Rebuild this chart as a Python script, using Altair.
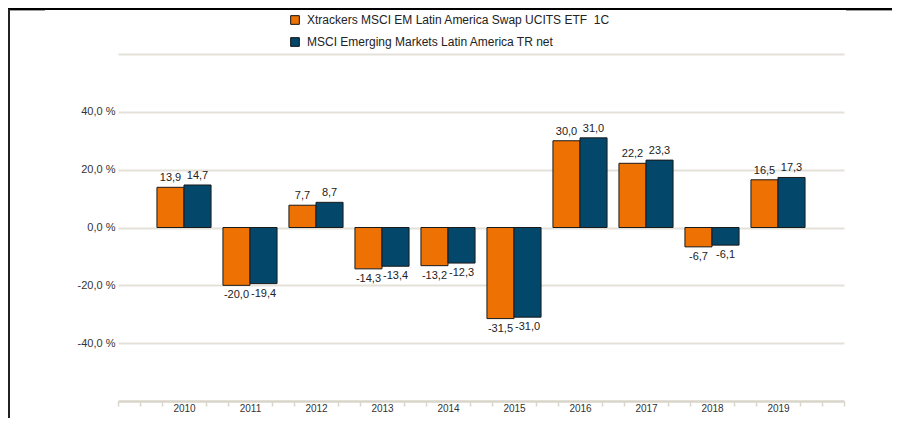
import altair as alt
import pandas as pd

years = [2010, 2011, 2012, 2013, 2014, 2015, 2016, 2017, 2018, 2019]
series_names = [
    "Xtrackers MSCI EM Latin America Swap UCITS ETF\u00a0 1C",
    "MSCI Emerging Markets Latin America TR net",
]
etf_values = [13.9, -20.0, 7.7, -14.3, -13.2, -31.5, 30.0, 22.2, -6.7, 16.5]
index_values = [14.7, -19.4, 8.7, -13.4, -12.3, -31.0, 31.0, 23.3, -6.1, 17.3]
colors = ["#ee7203", "#03476b"]

rows = []
for i, y in enumerate(years):
    rows.append({"year": y, "series": series_names[0], "order": 0, "value": etf_values[i]})
    rows.append({"year": y, "series": series_names[1], "order": 1, "value": index_values[i]})
df = pd.DataFrame(rows)

BW = 0.41
FONT = "Liberation Sans"

tick_vals = [round(2009 + k / 3, 4) for k in range(34)]
int_test = "abs(datum.value - round(datum.value)) < 0.01 && datum.value >= 2010 && datum.value <= 2019"

base = alt.Chart(df).transform_calculate(
    x0=f"datum.year + (datum.order == 0 ? -{BW} : 0)",
).transform_calculate(
    x1=f"datum.x0 + {BW}",
    xm=f"datum.x0 + {BW}/2",
    label="(datum.value < 0 ? '-' : '') + replace(format(abs(datum.value), '.1f'), '.', ',')",
)

xscale = alt.Scale(domain=[2009, 2020], nice=False, zero=False)
yscale = alt.Scale(domain=[-60, 60], nice=False, zero=False)

xaxis = alt.Axis(
    title=None,
    values=tick_vals,
    tickCount=100,
    labelExpr=f"({int_test}) ? toString(round(datum.value)) : ''",
    labelFont=FONT, labelFontSize=10, labelColor="#333333",
    labelPadding=-3, tickSize=5, tickColor="#d9d5ca", tickWidth=1.5,
    tickOpacity={"condition": {"test": int_test, "value": 0}, "value": 1},
    domainColor="#d9d5ca", domainWidth=2.5, grid=False, labelOverlap=False,
)

yaxis = alt.Axis(
    title=None,
    values=[-40, -20, 0, 20, 40, 60],
    tickCount=20,
    labelExpr="datum.value >= 60 ? '' : (datum.value < 0 ? '-' : '') + replace(format(abs(datum.value), '.1f'), '.', ',') + ' %'",
    labelFont=FONT, labelFontSize=11, labelColor="#333333",
    labelPadding=3, ticks=False, domain=False,
    grid=True, gridColor="#e4e1d9", gridWidth=2,
)

bars = base.mark_bar(stroke="#1a1a1a", strokeWidth=1).encode(
    x=alt.X("x0:Q", scale=xscale, axis=xaxis),
    x2="x1:Q",
    y=alt.Y("value:Q", scale=yscale, axis=yaxis),
    y2=alt.datum(0),
    color=alt.Color(
        "series:N",
        scale=alt.Scale(domain=series_names, range=colors),
        sort=series_names,
        legend=alt.Legend(
            title=None, orient="none", legendX=171, legendY=-40,
            symbolType="square", symbolSize=75, symbolStrokeColor="#111111",
            symbolStrokeWidth=1, symbolOpacity=1,
            labelFont=FONT, labelFontSize=12, labelColor="#222222",
            rowPadding=8, padding=0, labelOffset=6, labelLimit=600,
        ),
    ),
)

pos_labels = base.transform_filter("datum.value >= 0").mark_text(
    baseline="bottom", dy=-4, font=FONT, fontSize=11, color="#222222"
).encode(x="xm:Q", y="value:Q", text="label:N")

neg_labels = base.transform_filter("datum.value < 0").mark_text(
    baseline="top", dy=4, font=FONT, fontSize=11, color="#222222"
).encode(x="xm:Q", y="value:Q", text="label:N")

frame_top = alt.Chart(df).mark_rule(color="#000000", strokeWidth=2).encode(
    x=alt.value(-110), x2=alt.value(790), y=alt.value(-45)
)
frame_left = alt.Chart(df).mark_rule(color="#222222", strokeWidth=2).encode(
    x=alt.value(-109), y=alt.value(-45), y2=alt.value(380)
)
grey_l = alt.Chart(df).mark_rule(color="#a0a0a0", strokeWidth=1).encode(
    x=alt.value(-108), x2=alt.value(-73), y=alt.value(-43.5)
)
grey_r = alt.Chart(df).mark_rule(color="#a0a0a0", strokeWidth=1).encode(
    x=alt.value(728), x2=alt.value(790), y=alt.value(-43.5)
)

chart = alt.layer(bars, pos_labels, neg_labels, frame_top, frame_left, grey_l, grey_r).properties(
    width=726,
    height=347,
    autosize=alt.AutoSizeParams(type="none"),
    padding={"left": 110, "top": 46, "right": 48, "bottom": 17},
    background="#ffffff",
).configure_view(stroke=None)

chart.save("out.html", embed_options={"renderer": "svg", "actions": False})
